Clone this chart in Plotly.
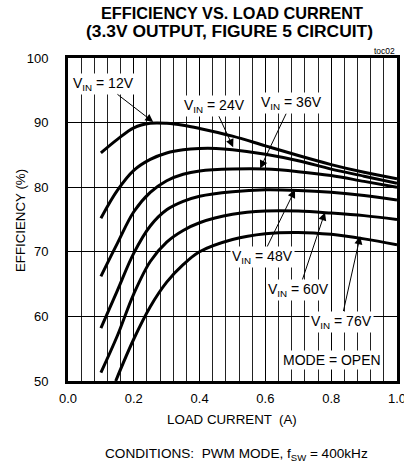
import plotly.graph_objects as go

# ---- data ----
x_12 = [0.10, 0.15, 0.20, 0.25, 0.30, 0.35, 0.40, 0.50, 0.60, 0.70, 0.80, 0.90, 1.00]
eff_12 = [85.3, 87.4, 89.2, 89.9, 89.9, 89.6, 89.1, 87.9, 86.4, 84.9, 83.5, 82.3, 81.3]

x_24 = [0.10, 0.15, 0.20, 0.25, 0.30, 0.35, 0.40, 0.45, 0.50, 0.60, 0.70, 0.80, 0.90, 1.00]
eff_24 = [75.2, 79.5, 82.6, 84.3, 85.3, 85.8, 86.0, 86.0, 85.8, 85.1, 84.1, 82.8, 81.7, 80.6]

x_36 = [0.10, 0.15, 0.20, 0.25, 0.30, 0.35, 0.40, 0.50, 0.60, 0.70, 0.80, 0.90, 1.00]
eff_36 = [66.2, 71.3, 76.2, 79.2, 81.0, 82.0, 82.5, 82.8, 82.8, 82.4, 81.8, 80.9, 80.0]

x_48 = [0.10, 0.15, 0.20, 0.25, 0.30, 0.35, 0.40, 0.50, 0.60, 0.70, 0.80, 0.90, 1.00]
eff_48 = [58.2, 64.0, 69.8, 74.0, 76.5, 77.8, 78.6, 79.3, 79.6, 79.5, 79.2, 78.7, 78.0]

x_60 = [0.10, 0.15, 0.20, 0.25, 0.30, 0.35, 0.40, 0.50, 0.60, 0.70, 0.80, 0.90, 1.00]
eff_60 = [51.3, 57.0, 63.5, 68.5, 71.5, 73.3, 74.5, 75.8, 76.3, 76.3, 76.0, 75.6, 75.0]

x_76 = [0.145, 0.20, 0.25, 0.30, 0.35, 0.40, 0.50, 0.60, 0.70, 0.80, 0.90, 1.00]
eff_76 = [50.0, 56.5, 61.5, 65.3, 68.0, 70.0, 71.9, 72.8, 73.0, 72.7, 72.0, 71.1]

series_labels = ["V<sub>IN</sub> = 12V", "V<sub>IN</sub> = 24V", "V<sub>IN</sub> = 36V",
                 "V<sub>IN</sub> = 48V", "V<sub>IN</sub> = 60V", "V<sub>IN</sub> = 76V"]
y_ticks = [50, 60, 70, 80, 90, 100]
x_ticks = [0.0, 0.2, 0.4, 0.6, 0.8, 1.0]
x_tick_labels = ["0.0", "0.2", "0.4", "0.6", "0.8", "1.0"]

series = [(x_12, eff_12), (x_24, eff_24), (x_36, eff_36),
          (x_48, eff_48), (x_60, eff_60), (x_76, eff_76)]

FONT = "Liberation Sans, Arial, sans-serif"

fig = go.Figure()
for (xs, ys), name in zip(series, series_labels):
    fig.add_trace(go.Scatter(x=xs, y=ys, mode="lines", name=name,
                             line=dict(color="black", width=3, shape="spline", smoothing=1.0),
                             showlegend=False, hoverinfo="skip"))

# arrow annotations: (label, tip_x, tip_y, text_x, text_y)
arrows = [
    (series_labels[0], 0.259, 90.1, 0.109, 96.0),
    (series_labels[1], 0.502, 86.2, 0.444, 92.6),
    (series_labels[2], 0.584, 82.9, 0.678, 93.0),
    (series_labels[3], 0.690, 79.6, 0.590, 69.2),
    (series_labels[4], 0.781, 76.1, 0.702, 64.1),
    (series_labels[5], 0.888, 72.4, 0.830, 59.2),
]
for label, tx, ty, ax, ay in arrows:
    fig.add_annotation(x=tx, y=ty, ax=ax, ay=ay, xref="x", yref="y", axref="x", ayref="y",
                       text=label, showarrow=True, arrowhead=2, arrowsize=1.6, arrowwidth=1,
                       arrowcolor="black", bgcolor="white", borderpad=1,
                       font=dict(family=FONT, size=14, color="black"))

fig.add_annotation(x=0.802, y=53.3, xref="x", yref="y", text="MODE = OPEN", showarrow=False,
                   bgcolor="white", borderpad=1, font=dict(family=FONT, size=14, color="black"))

def note(text, x, y, size, angle=0):
    fig.add_annotation(x=x, y=y, xref="paper", yref="paper", text=text, showarrow=False,
                       xanchor="center", yanchor="middle", textangle=angle,
                       font=dict(family=FONT, size=size, color="black"))

note("<b>EFFICIENCY VS. LOAD CURRENT</b>", 0.497, 1.139, 16.3)
note("<b>(3.3V OUTPUT, FIGURE 5 CIRCUIT)</b>", 0.492, 1.083, 17.4)
note("LOAD CURRENT  (A)", 0.498, -0.12, 13.3)
note("EFFICIENCY (%)", -0.146, 0.498, 13.3, -90)
note("CONDITIONS:  PWM MODE, f<sub>SW</sub> = 400kHz", 0.511, -0.229, 13.6)
fig.add_annotation(x=1.0, y=1.0, xref="paper", yref="paper", text="toc02", xanchor="right", yanchor="bottom",
                   showarrow=False, font=dict(family=FONT, size=8.5, color="black"))

fig.update_xaxes(range=[0, 1], tickvals=x_ticks, ticktext=x_tick_labels, automargin=False,
                 ticklabeloverflow="allow",
                 showgrid=True, gridcolor="black", gridwidth=1,
                 minor=dict(dtick=0.04, tick0=0, showgrid=True, gridcolor="#222", gridwidth=1),
                 showline=True, linecolor="black", linewidth=3, mirror=True,
                 ticks="outside", ticklen=3, tickcolor="rgba(0,0,0,0)",
                 zeroline=False, tickfont=dict(family=FONT, size=13, color="black"))
fig.update_yaxes(range=[50, 100], tickvals=y_ticks, automargin=False,
                 showgrid=True, gridcolor="black", gridwidth=1,
                 showline=True, linecolor="black", linewidth=3, mirror=True,
                 ticks="outside", ticklen=14, tickcolor="rgba(0,0,0,0)",
                 zeroline=False, tickfont=dict(family=FONT, size=13, color="black"))

fig.update_layout(width=404, height=470, margin=dict(l=68, r=7, t=58, b=89),
                  paper_bgcolor="white", plot_bgcolor="white", showlegend=False)

fig.write_html("out.html")
